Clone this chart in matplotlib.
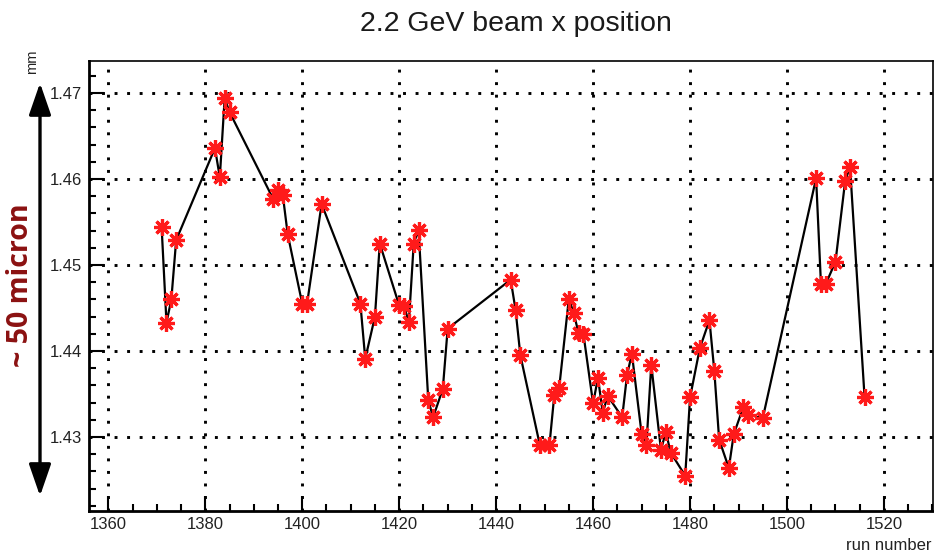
import numpy as np
import matplotlib
matplotlib.use('Agg')
import matplotlib.pyplot as plt
import matplotlib.patches as mpatches
from matplotlib.ticker import MultipleLocator

plt.rcParams['font.family'] = ['Liberation Sans', 'DejaVu Sans']

#%% data
runs = [1371, 1372, 1373, 1374, 1382, 1383, 1384, 1385, 1394, 1395,
        1396, 1397, 1400, 1401, 1404, 1412, 1413, 1415, 1416, 1420,
        1421, 1422, 1423, 1424, 1426, 1427, 1429, 1430, 1443, 1444,
        1445, 1449, 1451, 1452, 1453, 1455, 1456, 1457, 1458, 1460,
        1461, 1462, 1463, 1466, 1467, 1468, 1470, 1471, 1472, 1474,
        1475, 1476, 1479, 1480, 1482, 1484, 1485, 1486, 1488, 1489,
        1491, 1492, 1495, 1506, 1507, 1508, 1510, 1512, 1513, 1516]
xpos = [1.4544, 1.4433, 1.4460, 1.4529, 1.4636, 1.4602, 1.4694, 1.4678, 1.4577, 1.4587,
        1.4581, 1.4536, 1.4455, 1.4455, 1.4571, 1.4455, 1.4391, 1.4440, 1.4525, 1.4453,
        1.4452, 1.4434, 1.4525, 1.4541, 1.4343, 1.4323, 1.4356, 1.4426, 1.4483, 1.4448,
        1.4395, 1.4291, 1.4291, 1.4349, 1.4357, 1.4461, 1.4444, 1.4421, 1.4420, 1.4339,
        1.4369, 1.4328, 1.4348, 1.4323, 1.4372, 1.4397, 1.4304, 1.4291, 1.4384, 1.4285,
        1.4306, 1.4282, 1.4255, 1.4346, 1.4403, 1.4436, 1.4377, 1.4297, 1.4264, 1.4303,
        1.4335, 1.4326, 1.4322, 1.4601, 1.4478, 1.4478, 1.4504, 1.4598, 1.4614, 1.4346]

title = '2.2 GeV beam x position'
xlabel = 'run number'
ylabel = 'mm'
note = '~ 50 micron'

#%% figure
W, H = 934, 555
fig = plt.figure(figsize=(W/100, H/100), dpi=100)
ax = fig.add_axes([89.3/W, 1-511/H, (932.7-89.3)/W, (511-60.7)/H])

ax.plot(runs, xpos, '-', color='k', lw=1.6, zorder=3)
ax.plot(runs, xpos, ls='none', marker=(8, 2, 0), ms=12, mew=2.3,
        color='#ff1a1a', zorder=4)

ax.set_xlim(1356.08, 1530.05)
ax.set_ylim(1.4214, 1.47376)
ax.xaxis.set_major_locator(MultipleLocator(20))
ax.xaxis.set_minor_locator(MultipleLocator(5))
ax.yaxis.set_major_locator(MultipleLocator(0.01))
ax.yaxis.set_minor_locator(MultipleLocator(0.002))
ax.yaxis.set_major_formatter(plt.FuncFormatter(lambda v, p: '%.2f' % v))

ax.grid(True, which='major', color='k', lw=2.1, ls=(0, (1, 3.3)))
ax.set_axisbelow(True)

ax.tick_params(which='both', direction='in', top=False, right=False,
               colors='k', labelcolor='#222222', labelsize=12)
ax.tick_params(which='major', length=11, width=1.5)
ax.tick_params(which='minor', length=5, width=1.5)
ax.tick_params(axis='y', pad=5)
ax.tick_params(axis='x', pad=4)

for s in ['left', 'bottom']:
    ax.spines[s].set_linewidth(2.0)
for s in ['top', 'right']:
    ax.spines[s].set_linewidth(1.2)

fig.text(516/W, 1-24/H, title, ha='center', va='center', fontsize=20.5, color='#1a1a1a')
fig.text(932/W, 1-545/H, xlabel, ha='right', va='center', fontsize=12, color='#222222')
fig.text(32/W, 1-50/H, ylabel, ha='center', va='top', rotation=90, fontsize=10.5, color='#222222')

# double arrow + note on the left
arr = mpatches.FancyArrowPatch((40/W, 1-83/H), (40/W, 1-496/H),
                               arrowstyle='<|-|>,head_length=1.3,head_width=0.45',
                               mutation_scale=15, lw=2.4, color='k',
                               shrinkA=0, shrinkB=0, transform=fig.transFigure)
fig.add_artist(arr)
fig.text(21/W, 1-285/H, note, ha='center', va='center', rotation=90,
         fontsize=20.5, fontweight='bold', color='#8b1111', family='Open Sans')

plt.savefig('out.png', dpi=100)
